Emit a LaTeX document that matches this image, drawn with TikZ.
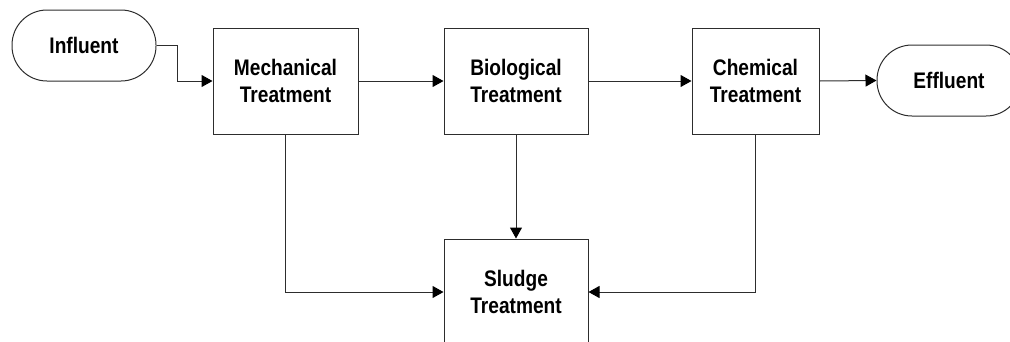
\documentclass[tikz,border=0pt]{standalone}
\usepackage{fontspec}
\setmainfont{Liberation Sans}[FakeStretch=0.85]
\usetikzlibrary{arrows.meta}
\definecolor{ink}{RGB}{45,45,45}
\tikzset{
  every picture/.style={x=1pt,y=-1pt},
  stage/.style={draw=ink,line width=1pt,fill=white,inner sep=0pt,align=center,
    font=\fontsize{22.5}{27}\selectfont\bfseries,minimum height=106pt},
  terminal/.style={draw=ink,line width=1pt,fill=white,inner sep=0pt,align=center,
    rounded corners=35pt,minimum width=144pt,minimum height=71pt,
    font=\fontsize{22.5}{27}\selectfont\bfseries},
  flow/.style={draw=ink,line width=1pt,-{Triangle[length=11pt,width=12pt,color=black]}}
}
\begin{document}
\begin{tikzpicture}
\useasboundingbox (0,0) rectangle (1010,341);
\clip (0,0) rectangle (1010,341);
% terminals
\node[terminal] (infl) at (84,45.5) {Influent};
\node[terminal] (effl) at (949,80.5) {Effluent};
% treatment stages
\node[stage,minimum width=145pt] (mech) at (285.5,81) {Mechanical\\Treatment};
\node[stage,minimum width=144pt] (bio) at (516,81) {Biological\\Treatment};
\node[stage,minimum width=127pt] (chem) at (755.5,81) {Chemical\\Treatment};
\node[stage,minimum width=144pt] (sludge) at (516,292) {Sludge\\Treatment};
% main line
\coordinate (bend) at (177,45);
\draw[flow] (infl.east |- bend) -- (bend) |- (mech.west);
\draw[flow] (mech.east) -- (bio.west);
\draw[flow] (bio.east) -- (chem.west);
\draw[flow] (chem.east) -- (effl.west);
% sludge lines
\draw[flow] (mech.south) |- (sludge.west);
\draw[flow] (bio.south) -- (sludge.north);
\draw[flow] (chem.south) |- (sludge.east);
\end{tikzpicture}
\end{document}
